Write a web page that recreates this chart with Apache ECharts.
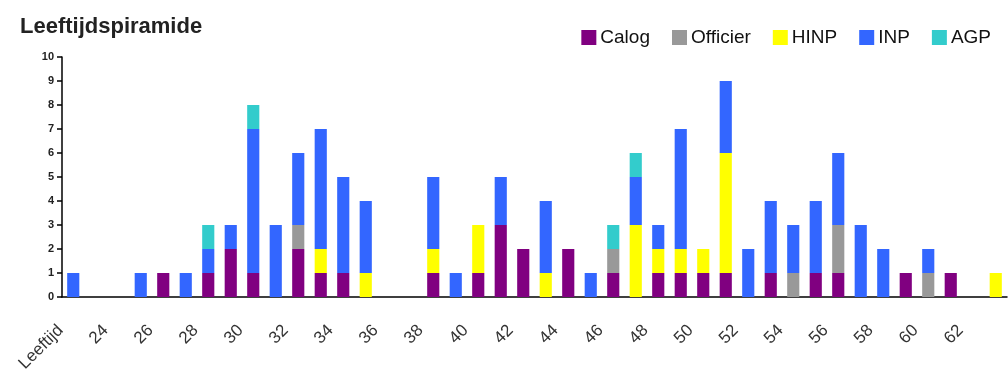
<!DOCTYPE html>
<html>
<head>
<meta charset="utf-8">
<script src="https://cdn.jsdelivr.net/npm/echarts@6/dist/echarts.min.js"></script>
<style>
  html, body { margin: 0; padding: 0; background: #fff; }
  #chart { width: 1008px; height: 372px; }
</style>
</head>
<body>
<div id="chart"></div>
<script>
// ages: first slot is the axis caption, then 23..63
const ages = ['Leeftijd']
for (let a = 23; a <= 63; a++) ages.push(String(a))

const calog    = [0,0,0,0,1,0,1,2,1,0,2,1,1,0,0,0,1,0,1,3,2,0,2,0,1,0,1,1,1,1,0,1,0,1,1,0,0,1,0,1,0,0]
const officier = [0,0,0,0,0,0,0,0,0,0,1,0,0,0,0,0,0,0,0,0,0,0,0,0,1,0,0,0,0,0,0,0,1,0,2,0,0,0,1,0,0,0]
const hinp     = [0,0,0,0,0,0,0,0,0,0,0,1,0,1,0,0,1,0,2,0,0,1,0,0,0,3,1,1,1,5,0,0,0,0,0,0,0,0,0,0,0,1]
const inp      = [1,0,0,1,0,1,1,1,6,3,3,5,4,3,0,0,3,1,0,2,0,3,0,1,0,2,1,5,0,3,2,3,2,3,3,3,2,0,1,0,0,0]
const agp      = [0,0,0,0,0,0,1,0,1,0,0,0,0,0,0,0,0,0,0,0,0,0,0,0,1,1,0,0,0,0,0,0,0,0,0,0,0,0,0,0,0,0]

const chart = echarts.init(document.getElementById('chart'))

const bar = (name, data, color) => ({
  name,
  type: 'bar',
  stack: 'total',
  data,
  barWidth: '54%',
  itemStyle: { color },
  emphasis: { disabled: true }
})

chart.setOption({
  animation: false,
  textStyle: { fontFamily: 'Liberation Sans, Arial, sans-serif' },
  title: {
    text: 'Leeftijdspiramide',
    left: 15,
    top: 11,
    textStyle: { fontSize: 22, fontWeight: 'bold', color: '#222' }
  },
  legend: {
    right: 12,
    top: 23,
    icon: 'rect',
    itemWidth: 15,
    itemHeight: 15,
    itemGap: 22,
    textStyle: { fontSize: 19, color: '#111', padding: [0, 0, 0, -1] },
    data: ['Calog', 'Officier', 'HINP', 'INP', 'AGP']
  },
  grid: { left: 62, right: 1, top: 57, bottom: 75, outerBoundsMode: 'none' },
  xAxis: {
    type: 'category',
    data: ages,
    axisLine: { lineStyle: { color: '#000', width: 1.5 } },
    axisTick: { interval: 0, length: 5, lineStyle: { color: '#000', width: 1.5 } },
    axisLabel: { interval: 1, rotate: 45, fontSize: 17, color: '#333', margin: 18, padding: [0, 18, 0, 0] }
  },
  yAxis: {
    type: 'value',
    min: 0,
    max: 10,
    interval: 1,
    splitLine: { show: false },
    axisLine: { show: true, lineStyle: { color: '#000', width: 1.5 } },
    axisTick: { show: true, length: 5, lineStyle: { color: '#000', width: 1.5 } },
    axisLabel: { fontSize: 11, fontWeight: 'bold', color: '#222', margin: 8 }
  },
  series: [
    bar('Calog', calog, '#800080'),
    bar('Officier', officier, '#999999'),
    bar('HINP', hinp, '#ffff00'),
    bar('INP', inp, '#3366ff'),
    bar('AGP', agp, '#33cccc')
  ]
})
</script>
</body>
</html>
